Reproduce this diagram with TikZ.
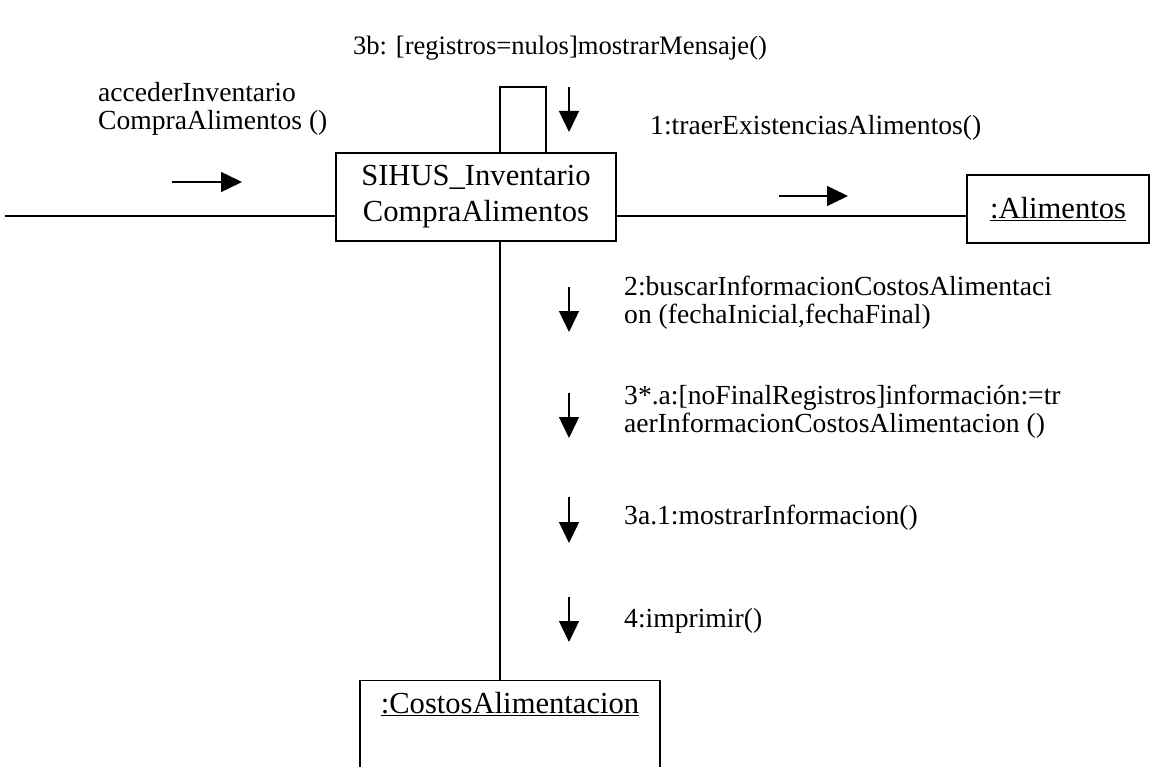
\documentclass[tikz,border=0pt]{standalone}
\usepackage{fontspec}
\setmainfont{Liberation Serif}
\usetikzlibrary{arrows.meta,calc}
\begin{document}
\begin{tikzpicture}[x=1pt,y=-1pt,
  obj/.style={draw, line width=1.4pt, inner sep=0pt, font=\fontsize{30.6}{36}\selectfont, align=center},
  lbl/.style={inner sep=0pt, font=\fontsize{27.6}{28}\selectfont, align=left},
  conn/.style={line width=1.4pt},
  msg/.style={line width=1.4pt, -{Triangle[length=21pt,width=20pt]}}]
\useasboundingbox (0,0) rectangle (1150,767);
\clip (0,0) rectangle (1150,767);
% objects
\node[obj, minimum width=280pt, minimum height=88pt] (main) at (476,197) {SIHUS\_Inventario\\CompraAlimentos};
\node[obj, minimum width=182pt, minimum height=68pt] (alim) at (1058,209) {\underline{:Alimentos}};
\node[draw, line width=1.4pt, minimum width=300pt, minimum height=140pt, anchor=north] (costos) at (510,680) {};
\node[inner sep=0pt, font=\fontsize{30.6}{36}\selectfont] (costoslbl) at ($(costos.north)+(0,24)$) {\underline{:CostosAlimentacion}};
% helper coordinates
\coordinate (vx) at (500,0);
\coordinate (lineY) at (0,216);
\coordinate (start) at (5,216);
\coordinate (loopTR) at (546,87);
% connectors
\draw[conn] (start) -- (lineY -| main.west);
\draw[conn] (lineY -| main.east) -- (lineY -| alim.west);
\draw[conn] (main.south -| vx) -- (costos.north -| vx);
\draw[conn] (main.north -| vx) |- (loopTR) -- (loopTR |- main.north);
% message arrows
\coordinate (a0s) at (172,182); \coordinate (a0e) at (242,182);
\coordinate (a1s) at (779,196); \coordinate (a1e) at (848,196);
\coordinate (a3bs) at (569,87); \coordinate (a3be) at (569,132);
\coordinate (a2s) at (569,287); \coordinate (a2e) at (569,332);
\coordinate (a3s) at (569,393); \coordinate (a3e) at (569,438);
\coordinate (a4s) at (569,497); \coordinate (a4e) at (569,543);
\coordinate (a5s) at (569,597); \coordinate (a5e) at (569,642);
\draw[msg] (a0s) -- (a0e);
\draw[msg] (a1s) -- (a1e);
\draw[msg] (a3bs) -- (a3be);
\draw[msg] (a2s) -- (a2e);
\draw[msg] (a3s) -- (a3e);
\draw[msg] (a4s) -- (a4e);
\draw[msg] (a5s) -- (a5e);
% labels
\node[lbl, font=\fontsize{26.6}{28}\selectfont] (t3b) at (560,48) {3b: [registros=nulos]mostrarMensaje()};
\node[lbl, anchor=west] (acc) at (98,109) {accederInventario\\CompraAlimentos ()};
\node[lbl, anchor=west] (m1) at (650,128) {1:traerExistenciasAlimentos()};
\node[lbl, anchor=west] (m2) at (624,303) {2:buscarInformacionCostosAlimentaci\\on (fechaInicial,fechaFinal)};
\node[lbl, anchor=west] (m3) at (624,412) {3*.a:[noFinalRegistros]información:=tr\\aerInformacionCostosAlimentacion ()};
\node[lbl, anchor=west] (m4) at (624,518) {3a.1:mostrarInformacion()};
\node[lbl, anchor=west] (m5) at (624,621) {4:imprimir()};
\end{tikzpicture}
\end{document}
